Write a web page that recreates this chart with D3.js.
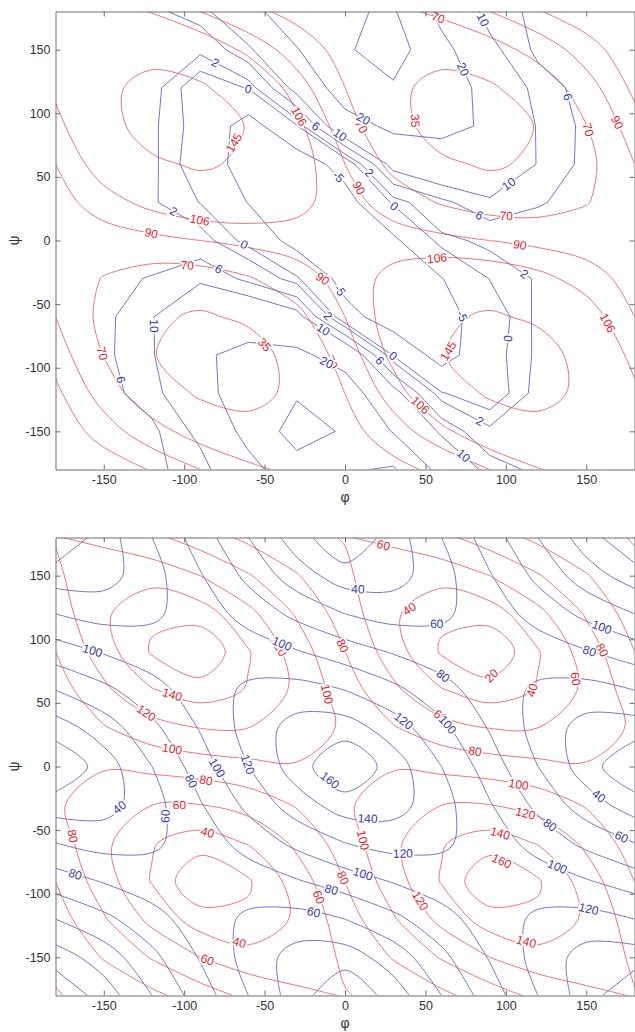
<!DOCTYPE html>
<html>
<head>
<meta charset="utf-8">
<script src="https://cdn.jsdelivr.net/npm/d3@7"></script>
<style>
  body { margin: 0; background: #fff; }
  svg { display: block; font-family: "Liberation Sans", Arial, sans-serif; }
</style>
</head>
<body>
<script>
// values sampled every 30 deg: columns phi -180..180, rows psi 180..-180
const redAngle = [
  [120.7, 116.2, 104.8,  90,   75.2,  63.8,  59.3,  63.8,  75.2,  90,   104.8, 116.2, 120.7],
  [117.6, 130.7, 131.7, 120,  101.6,  81.3,  62.4,  49.3,  48.3,  60,    78.4,  98.7, 117.6],
  [109.9, 136.6, 156.9, 150,  125.5,  98,    70.1,  43.4,  23.1,  30,    54.5,  82,   109.9],
  [ 99.8, 130.3, 162,   180,  141.4, 110.7,  80.2,  49.7,  18,     0,    38.6,  69.3,  99.8],
  [ 90,   115.7, 138.6, 150,  138.6, 115.7,  90,    64.3,  41.4,  30,    41.4,  64.3,  90  ],
  [ 82.9,  98.2, 111.8, 120,  119.7, 111,    97.1,  81.8,  68.2,  60,    60.3,  69,    82.9],
  [ 80.2,  81.5,  85.1,  90,   94.9,  98.5,  99.8,  98.5,  94.9,  90,    85.1,  81.5,  80.2],
  [ 82.9,  69,    60.3,  60,   68.2,  81.8,  97.1, 111,   119.7, 120,   111.8,  98.2,  82.9],
  [ 90,    64.3,  41.4,  30,   41.4,  64.3,  90,   115.7, 138.6, 150,   138.6, 115.7,  90  ],
  [ 99.8,  69.3,  38.6,   0,   18,    49.7,  80.2, 110.7, 141.4, 180,   162,   130.3,  99.8],
  [109.9,  82,    54.5,  30,   23.1,  43.4,  70.1,  98,   125.5, 150,   156.9, 136.6, 109.9],
  [117.6,  98.7,  78.4,  60,   48.3,  49.3,  62.4,  81.3, 101.6, 120,   131.7, 130.7, 117.6],
  [120.7, 116.2, 104.8,  90,   75.2,  63.8,  59.3,  63.8,  75.2,  90,   104.8, 116.2, 120.7]
];

const blueTop = [
  [4,   4.5, 5,    8,    17,   26,   29,  31,   17,   8,    5,   4.5, 4  ],
  [4.2, 4.6, 5,    2.6,  9,    19.5, 29,  34,   23,   11.5, 5,   4.5, 4.2],
  [4,   3.8, 3,   -2,    0.2,  12,   25,  29,   25,   17,   8,   4.5, 4  ],
  [4,   3.5, 2.5, -1.3, -7.2, -0.3,  16,  22,   22,   19,   9.5, 5,   4  ],
  [4,   3,   2.6, -1.9, -7.4, -8,   -3,   12,   16,   17,   9.7, 4.8, 4  ],
  [4,   3,   2.3, -0.1, -5.2, -8,   -7,   0.5,  5,    9,    6.3, 4.8, 4  ],
  [4,   3.5, 3,    3.2, -1,   -7,   -9,  -6,    1.2,  2.7,  4,   4.2, 4  ],
  [4,   4.8, 6.3,  9,    5,    0.5, -7,  -8,   -5.2,  0.1,  2.3, 3,   4  ],
  [4,   4.8, 9.7,  17,   16,   12,  -3,  -8,   -7.4, -1.9,  2.6, 3,   4  ],
  [4,   5,   9.5,  19,   22,   22,   16, -0.3, -7.2, -1.3,  2.5, 3.5, 4  ],
  [4,   4.5, 8,    17,   25,   29,   25,  12,   0.2,  -2,   3,   3.8, 4  ],
  [4.2, 4.5, 5,    11.5, 23,   34,   29,  19.5, 9,    2.6,  5,   4.6, 4.2],
  [4,   4.5, 5,    8,    17,   26,   29,  31,   17,   8,    5,   4.5, 4  ]
];

const blueBottom = [
  [180, 150,   120,   90,    60,    30,     0,    30,    60,    90,   120,   150,   180],
  [150, 148.2, 127.3, 101.5,  74.9,  49.5,  30,    31.8,  52.7,  78.5, 105.1, 130.5, 150],
  [120, 127.3, 123.4, 110.2,  92.9,  74.9,  60,    52.7,  56.6,  69.8,  87.1, 105.1, 120],
  [ 90, 101.5, 110.2, 113.6, 110.2, 101.5,  90,    78.5,  69.8,  66.4,  69.8,  78.5,  90],
  [ 60,  74.9,  92.9, 110.2, 123.4, 127.3, 120,   105.1,  87.1,  69.8,  56.6,  52.7,  60],
  [ 30,  49.5,  74.9, 101.5, 127.3, 148.2, 150,   130.5, 105.1,  78.5,  52.7,  31.8,  30],
  [  0,  30,    60,    90,   120,   150,   180,   150,   120,    90,    60,    30,     0],
  [ 30,  31.8,  52.7,  78.5, 105.1, 130.5, 150,   148.2, 127.3, 101.5,  74.9,  49.5,  30],
  [ 60,  52.7,  56.6,  69.8,  87.1, 105.1, 120,   127.3, 123.4, 110.2,  92.9,  74.9,  60],
  [ 90,  78.5,  69.8,  66.4,  69.8,  78.5,  90,   101.5, 110.2, 113.6, 110.2, 101.5,  90],
  [120, 105.1,  87.1,  69.8,  56.6,  52.7,  60,    74.9,  92.9, 110.2, 123.4, 127.3, 120],
  [150, 130.5, 105.1,  78.5,  52.7,  31.8,  30,    49.5,  74.9, 101.5, 127.3, 148.2, 150],
  [180, 150,   120,    90,    60,    30,     0,    30,    60,    90,   120,   150,   180]
];

const topRedLevels = [35, 70, 90, 106, 145];
const topBlueLevels = [-5, 0, 2, 6, 10, 20, 30];
const bottomRedLevels = [20, 40, 60, 80, 100, 120, 140, 160];
const bottomBlueLevels = [20, 40, 60, 80, 100, 120, 140, 160];

// [level, phi, psi] where the inline label sits
const topRedLabels = [
  [145, -68, 76], [145, 67, -89],
  [106, -31, 96], [106, -90, 18], [106, 58, -22], [106, 45, -132], [106, 160, -67],
  [90, -120, 8], [90, 0, 35], [90, -9, -24], [90, 108, -10], [90, 168, 92],
  [70, 56, 168], [70, 8, 88], [70, 148, 86], [70, 100, 12], [70, -98, -17], [70, -155, -90], [70, -11, -97],
  [35, 42, 94], [35, -51, -83]
];
const topBlueLabels = [
  [-5, -8, 45], [-5, -3, -39], [-5, 72, -60],
  [0, -60, 120], [0, -63, -4], [0, 32, 29], [0, 28, -94], [0, 101, -77],
  [2, -81, 139], [2, -107, 22], [2, 14, 52], [2, -11, -60], [2, 110, -29], [2, 83, -144],
  [6, -17, 92], [6, -78, -21], [6, 17, -100], [6, 136, 112], [6, 82, 16], [6, -141, -110],
  [10, -2, 85], [10, -16, -75], [10, 101, 46], [10, 85, 173], [10, 73, -170], [10, -111, -67],
  [20, 12, 97], [20, 76, 136], [20, -14, -102]
];
const bottomRedLabels = [
  [20, 93, 69],
  [40, 42, 120], [40, 118, 57], [40, -85, -50], [40, -65, -135],
  [60, 21, 159], [60, 144, 69], [60, 57, 35], [60, -103, -25], [60, -85, -150], [60, -17, -103],
  [80, -3, 94], [80, 159, 91], [80, 80, 6], [80, -86, -8], [80, -174, -56], [80, -2, -88],
  [100, -107, 17], [100, -18, 55], [100, 14, -57], [100, 107, -21],
  [120, -123, 43], [120, -44, 92], [120, 111, -43], [120, 45, -107],
  [140, -107, 58], [140, 95, -59], [140, 111, -146],
  [160, 95, -81]
];
const bottomBlueLabels = [
  [40, 8, 138], [40, -141, -31], [40, 156, -26],
  [60, 57, 116], [60, -112, -39], [60, 171, -58], [60, -20, -117],
  [80, 62, 73], [80, -98, -13], [80, 151, 87], [80, -168, -86], [80, -9, -99], [80, 125, -50],
  [100, -157, 91], [100, -41, 91], [100, 63, 32], [100, -81, -2], [100, 159, 107], [100, 11, -85], [100, 130, -85],
  [120, 36, 35], [120, -62, 1], [120, 36, -68], [120, 151, -115],
  [140, 14, -43],
  [160, -12, -15]
];

const axisTicks = [-150, -100, -50, 0, 50, 100, 150];

const W = 635, H = 1032;
const RED_LINE = "#e6676b", RED_TEXT = "#dd2430";
const BLUE_LINE = "#6868bc", BLUE_TEXT = "#3a3aa6";

const svg = d3.select("body").append("svg")
  .attr("width", W)
  .attr("height", H);

const x = d3.scaleLinear().domain([-180, 180]).range([55.5, 634.5]);

// marching squares -> polylines in (phi, psi)
function isolines(grid, level) {
  const pts = new Map(), adj = new Map();
  function cross(key, i0, j0, i1, j1) {
    if (!pts.has(key)) {
      const a = grid[j0][i0], b = grid[j1][i1];
      const t = (level - a) / (b - a);
      const i = i0 + (i1 - i0) * t, j = j0 + (j1 - j0) * t;
      pts.set(key, [-180 + 30 * i, 180 - 30 * j]);
      adj.set(key, []);
    }
    return key;
  }
  function link(k1, k2) {
    adj.get(k1).push(k2);
    adj.get(k2).push(k1);
  }
  for (let j = 0; j < grid.length - 1; j++) {
    for (let i = 0; i < grid[0].length - 1; i++) {
      const a = grid[j][i], b = grid[j][i + 1], c = grid[j + 1][i + 1], d = grid[j + 1][i];
      const A = a >= level, B = b >= level, C = c >= level, D = d >= level;
      const top = A !== B ? cross("h" + i + "," + j, i, j, i + 1, j) : null;
      const right = B !== C ? cross("v" + (i + 1) + "," + j, i + 1, j, i + 1, j + 1) : null;
      const bottom = D !== C ? cross("h" + i + "," + (j + 1), i, j + 1, i + 1, j + 1) : null;
      const left = A !== D ? cross("v" + i + "," + j, i, j, i, j + 1) : null;
      const list = [top, right, bottom, left].filter(k => k !== null);
      if (list.length === 2) link(list[0], list[1]);
      else if (list.length === 4) {
        const center = (a + b + c + d) / 4 >= level;
        if (A !== center) { link(top, left); link(right, bottom); }
        else { link(top, right); link(bottom, left); }
      }
    }
  }
  function walk(start) {
    const line = [start];
    let cur = start;
    while (adj.get(cur).length) {
      const nxt = adj.get(cur).pop();
      const back = adj.get(nxt);
      back.splice(back.indexOf(cur), 1);
      line.push(nxt);
      cur = nxt;
      if (nxt === start) break;
    }
    return line;
  }
  const lines = [];
  for (const [k, v] of adj) if (v.length === 1) lines.push(walk(k));
  for (const [k, v] of adj) if (v.length > 0) lines.push(walk(k));
  return lines.filter(l => l.length > 1).map(l => ({
    closed: l.length > 2 && l[0] === l[l.length - 1],
    pts: l.map(k => pts.get(k))
  }));
}

function drawPanel(yTop, yBottom, fields, idx) {
  const y = d3.scaleLinear().domain([-180, 180]).range([yBottom, yTop]);
  const g = svg.append("g");

  g.append("clipPath").attr("id", "clip" + idx)
    .append("rect")
    .attr("x", x(-180)).attr("y", yTop)
    .attr("width", x(180) - x(-180)).attr("height", yBottom - yTop);

  const plot = g.append("g").attr("clip-path", "url(#clip" + idx + ")");
  const labelLayer = g.append("g");

  fields.forEach(f => {
    const byLevel = new Map();
    f.levels.forEach(level => {
      const lines = isolines(f.grid, level).map(l => ({
        closed: l.closed,
        xy: l.pts.map(p => [x(p[0]), y(p[1])])
      }));
      byLevel.set(level, lines);
      lines.forEach(l => {
        let curve, data = l.xy;
        if (l.closed) {
          data = l.xy.slice(0, -1);
          curve = f.smooth ? d3.curveCatmullRomClosed.alpha(0.5) : d3.curveLinearClosed;
        } else {
          curve = f.smooth ? d3.curveCatmullRom.alpha(0.5) : d3.curveLinear;
        }
        plot.append("path")
          .attr("d", d3.line().curve(curve)(data))
          .attr("fill", "none")
          .attr("stroke", f.line)
          .attr("stroke-width", 0.9)
          .attr("stroke-linejoin", "round");
      });
    });

    f.labels.forEach(([level, phi, psi]) => {
      const tx = x(phi), ty = y(psi);
      let best = null;
      (byLevel.get(level) || []).forEach(l => {
        for (let k = 0; k < l.xy.length - 1; k++) {
          const [x0, y0] = l.xy[k], [x1, y1] = l.xy[k + 1];
          const dx = x1 - x0, dy = y1 - y0;
          const len2 = dx * dx + dy * dy;
          if (len2 === 0) continue;
          let t = ((tx - x0) * dx + (ty - y0) * dy) / len2;
          t = Math.max(0, Math.min(1, t));
          const px = x0 + t * dx, py = y0 + t * dy;
          const dist = (px - tx) ** 2 + (py - ty) ** 2;
          if (!best || dist < best.dist) best = {dist, px, py, ang: Math.atan2(dy, dx) * 180 / Math.PI};
        }
      });
      if (!best) return;
      let ang = best.ang;
      if (ang > 90) ang -= 180;
      if (ang < -90) ang += 180;
      labelLayer.append("text")
        .attr("transform", `translate(${best.px},${best.py}) rotate(${ang})`)
        .attr("text-anchor", "middle")
        .attr("dy", "0.35em")
        .attr("font-size", 12)
        .attr("fill", f.text)
        .attr("stroke", "#fff")
        .attr("stroke-width", 3.5)
        .attr("paint-order", "stroke")
        .text(String(level));
    });
  });

  // axes: ticks inside on all four sides
  const fmt = d => String(d);
  const axes = g.append("g").attr("class", "axes");
  axes.append("g").attr("transform", `translate(0,${yBottom})`)
    .call(d3.axisBottom(x).tickValues(axisTicks).tickSizeInner(-5).tickSizeOuter(0).tickPadding(6).tickFormat(fmt));
  axes.append("g").attr("transform", `translate(0,${yTop})`)
    .call(d3.axisTop(x).tickValues(axisTicks).tickSizeInner(-5).tickSizeOuter(0).tickFormat(""));
  axes.append("g").attr("transform", `translate(${x(-180)},0)`)
    .call(d3.axisLeft(y).tickValues(axisTicks).tickSizeInner(-5).tickSizeOuter(0).tickPadding(5).tickFormat(fmt));
  axes.append("g").attr("transform", `translate(${x(180)},0)`)
    .call(d3.axisRight(y).tickValues(axisTicks).tickSizeInner(-5).tickSizeOuter(0).tickFormat(""));
  axes.selectAll(".domain, .tick line").attr("stroke", "#6e6e6e");
  axes.selectAll("g").attr("font-family", null).attr("font-size", null);
  axes.selectAll(".tick text").attr("fill", "#333").attr("font-size", 12.5);

  g.append("text")
    .attr("x", x(0)).attr("y", yBottom + 32)
    .attr("text-anchor", "middle")
    .attr("font-size", 14).attr("fill", "#333")
    .text("φ");
  g.append("text")
    .attr("transform", `translate(19,${y(0)}) rotate(-90)`)
    .attr("text-anchor", "middle")
    .attr("font-size", 14).attr("fill", "#333")
    .text("ψ");
}

drawPanel(11.5, 469.5, [
  {grid: redAngle, levels: topRedLevels, labels: topRedLabels, line: RED_LINE, text: RED_TEXT, smooth: true},
  {grid: blueTop, levels: topBlueLevels, labels: topBlueLabels, line: BLUE_LINE, text: BLUE_TEXT, smooth: false}
], 0);

drawPanel(537.5, 995.5, [
  {grid: redAngle, levels: bottomRedLevels, labels: bottomRedLabels, line: RED_LINE, text: RED_TEXT, smooth: true},
  {grid: blueBottom, levels: bottomBlueLevels, labels: bottomBlueLabels, line: BLUE_LINE, text: BLUE_TEXT, smooth: true}
], 1);
</script>
</body>
</html>
